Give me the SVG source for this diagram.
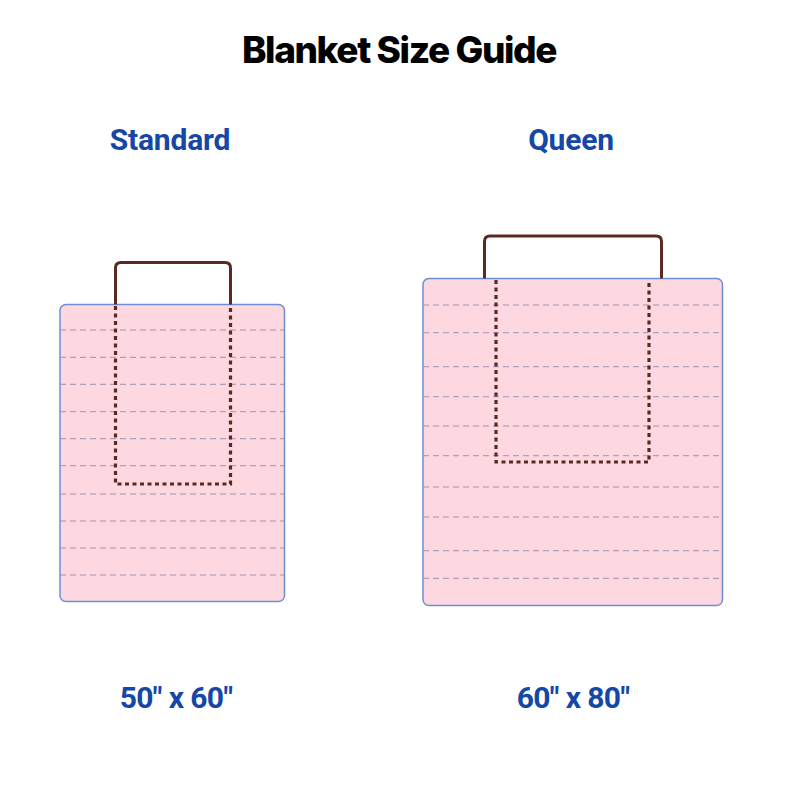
<svg xmlns="http://www.w3.org/2000/svg" width="800" height="800" viewBox="0 0 800 800">
<style>
.title{font-family:"Inter","Liberation Sans",sans-serif;font-weight:800;font-size:37px;fill:#000;letter-spacing:-1.4px}
.head{font-family:"Roboto","Liberation Sans",sans-serif;font-weight:700;font-size:30px;fill:#1547a6;letter-spacing:-0.2px}
.dim{font-family:"Roboto","Liberation Sans",sans-serif;font-weight:700;font-size:30px;fill:#1547a6;letter-spacing:-0.6px}
.blanket{fill:#fdd8e1;stroke:#6e8fd6;stroke-width:1.5}
.seam{stroke:#a092b0;stroke-width:1;stroke-dasharray:6 4;fill:none}
.pillow{fill:none;stroke:#5a2a22;stroke-width:3;stroke-linejoin:round}
.pdot{fill:none;stroke:#5a2a22;stroke-width:3.2;stroke-dasharray:4 3.5}
</style>
<rect width="800" height="800" fill="#fff"/>
<text class="title" x="399" y="63" text-anchor="middle">Blanket Size Guide</text>
<text class="head" x="170" y="150" text-anchor="middle">Standard</text>
<text class="head" x="571" y="150" text-anchor="middle">Queen</text>

<g id="standard">
<rect class="blanket" x="60" y="304.5" width="224.5" height="297" rx="6"/>
<g class="seam">
<line x1="60" y1="330" x2="284" y2="330"/>
<line x1="60" y1="357.3" x2="284" y2="357.3"/>
<line x1="60" y1="384.3" x2="284" y2="384.3"/>
<line x1="60" y1="411.7" x2="284" y2="411.7"/>
<line x1="60" y1="438.7" x2="284" y2="438.7"/>
<line x1="60" y1="465.7" x2="284" y2="465.7"/>
<line x1="60" y1="494" x2="284" y2="494"/>
<line x1="60" y1="521" x2="284" y2="521"/>
<line x1="60" y1="548" x2="284" y2="548"/>
<line x1="60" y1="575" x2="284" y2="575"/>
</g>
<path class="pillow" d="M115.5,304.5 V268 Q115.5,262.5 121,262.5 H225 Q230.5,262.5 230.5,268 V304.5"/>
<path class="pdot" d="M115.5,306 V484 H230.5 V306"/>
</g>

<g id="queen">
<rect class="blanket" x="423" y="278.5" width="299.5" height="327" rx="6"/>
<g class="seam">
<line x1="423" y1="305" x2="722" y2="305"/>
<line x1="423" y1="332.7" x2="722" y2="332.7"/>
<line x1="423" y1="366.7" x2="722" y2="366.7"/>
<line x1="423" y1="396.7" x2="722" y2="396.7"/>
<line x1="423" y1="426" x2="722" y2="426"/>
<line x1="423" y1="455.7" x2="722" y2="455.7"/>
<line x1="423" y1="487" x2="722" y2="487"/>
<line x1="423" y1="517" x2="722" y2="517"/>
<line x1="423" y1="550.7" x2="722" y2="550.7"/>
<line x1="423" y1="578.3" x2="722" y2="578.3"/>
</g>
<path class="pillow" d="M484.5,278.5 V241.5 Q484.5,236 490,236 H656 Q661.5,236 661.5,241.5 V278.5"/>
<path class="pdot" d="M496,280 V462 H649 V280"/>
</g>

<text class="dim" x="176" y="708" text-anchor="middle">50" x 60"</text>
<text class="dim" x="573" y="708" text-anchor="middle">60" x 80"</text>
</svg>
